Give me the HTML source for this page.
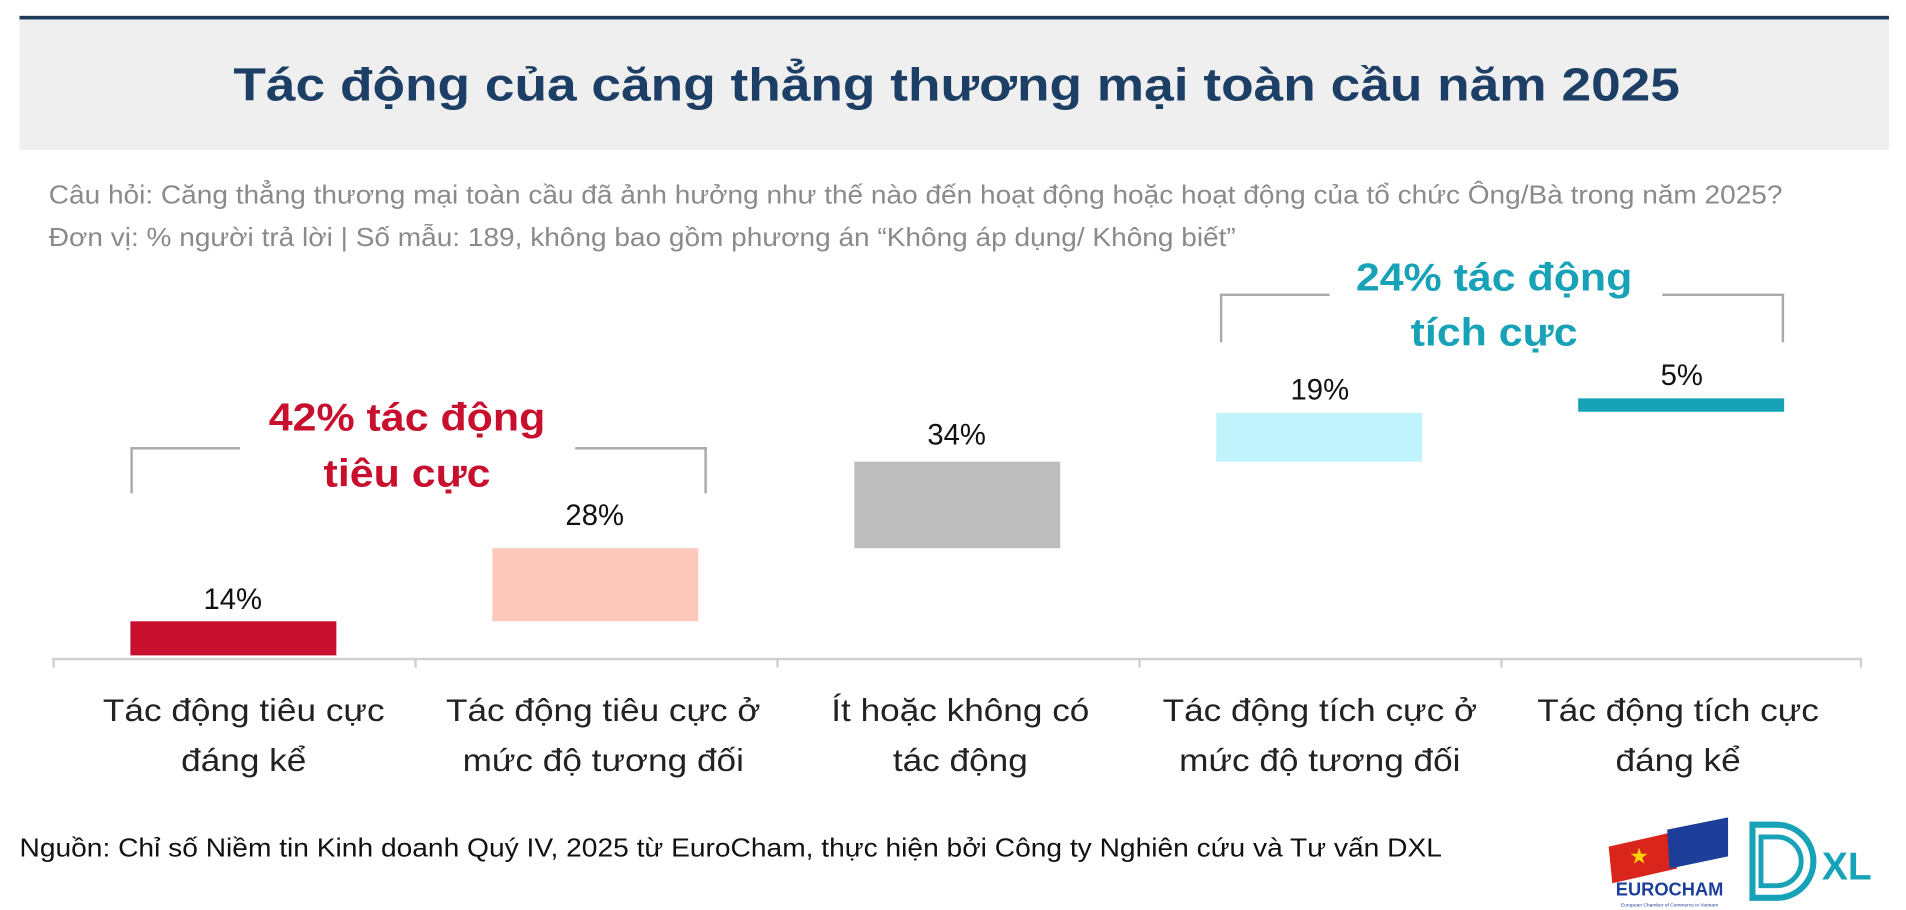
<!DOCTYPE html>
<html><head><meta charset="utf-8"><style>
html,body{margin:0;padding:0;background:#fff;overflow:hidden;width:1906px;height:910px}
#w{position:absolute;left:0;top:0;width:1564px;height:747px;transform-origin:0 0;transform:scale(1.21867,1.2182);font-family:"Liberation Sans",sans-serif}
.a{position:absolute}
.t{position:absolute;white-space:nowrap;transform:translate(-50%,-50%)}
.bar{position:absolute}
.cat{position:absolute;width:290px;text-align:center;font-size:26px;line-height:41px;color:#222;transform:translateX(-50%) scaleX(1.11)}
.v{font-size:24px;color:#111}
</style></head><body><div id="w">
<div class="a" style="left:16px;top:13px;width:1534px;height:3px;background:#1f3a5a"></div>
<div class="a" style="left:16px;top:16px;width:1534px;height:107px;background:#efeff0"></div>
<div class="t" style="left:785px;top:71px;font-size:38px;font-weight:bold;color:#1d3f66;transform:translate(-50%,-50%) scaleX(1.15)">Tác động của căng thẳng thương mại toàn cầu năm 2025</div>
<div class="a" style="left:40px;top:149px;font-size:21px;color:#8a8a8a;white-space:nowrap;transform-origin:0 0;transform:scaleX(1.095)">Câu hỏi: Căng thẳng thương mại toàn cầu đã ảnh hưởng như thế nào đến hoạt động hoặc hoạt động của tổ chức Ông/Bà trong năm 2025?</div>
<div class="a" style="left:40px;top:184px;font-size:21px;color:#8a8a8a;white-space:nowrap;transform-origin:0 0;transform:scaleX(1.095)">Đơn vị: % người trả lời | Số mẫu: 189, không bao gồm phương án “Không áp dụng/ Không biết”</div>

<div class="a" style="left:43px;top:540px;width:1484px;height:2px;background:#d0d0d0"></div>
<div class="a" style="left:43px;top:540px;width:2px;height:8px;background:#d0d0d0"></div>
<div class="a" style="left:340px;top:540px;width:2px;height:8px;background:#d0d0d0"></div>
<div class="a" style="left:637px;top:540px;width:2px;height:8px;background:#d0d0d0"></div>
<div class="a" style="left:934px;top:540px;width:2px;height:8px;background:#d0d0d0"></div>
<div class="a" style="left:1231px;top:540px;width:2px;height:8px;background:#d0d0d0"></div>
<div class="a" style="left:1526px;top:540px;width:2px;height:8px;background:#d0d0d0"></div>

<div class="bar" style="left:107px;top:510px;width:169px;height:28px;background:#c8102e"></div>
<div class="bar" style="left:404px;top:450px;width:169px;height:60px;background:#fcc9bc"></div>
<div class="bar" style="left:701px;top:379px;width:169px;height:71px;background:#bdbdbd"></div>
<div class="bar" style="left:998px;top:339px;width:169px;height:40px;background:#c0f3fb"></div>
<div class="bar" style="left:1295px;top:327px;width:169px;height:11px;background:#17a2b8"></div>

<div class="t v" style="left:191px;top:493px">14%</div>
<div class="t v" style="left:488px;top:424px">28%</div>
<div class="t v" style="left:785px;top:358px">34%</div>
<div class="t v" style="left:1083px;top:321px">19%</div>
<div class="t v" style="left:1380px;top:309px">5%</div>

<div class="a" style="left:107px;top:367px;width:88px;height:36px;border-left:2px solid #aaa;border-top:2px solid #aaa"></div>
<div class="a" style="left:472px;top:367px;width:106px;height:36px;border-right:2px solid #aaa;border-top:2px solid #aaa"></div>
<div class="t" style="left:334px;top:343px;font-size:32px;font-weight:bold;color:#c8102e;transform:translate(-50%,-50%) scaleX(1.1)">42% tác động</div>
<div class="t" style="left:334px;top:389px;font-size:32px;font-weight:bold;color:#c8102e;transform:translate(-50%,-50%) scaleX(1.1)">tiêu cực</div>

<div class="a" style="left:1001px;top:241px;width:88px;height:38px;border-left:2px solid #aaa;border-top:2px solid #aaa"></div>
<div class="a" style="left:1364px;top:241px;width:98px;height:38px;border-right:2px solid #aaa;border-top:2px solid #aaa"></div>
<div class="t" style="left:1226px;top:228px;font-size:32px;font-weight:bold;color:#17a2b8;transform:translate(-50%,-50%) scaleX(1.1)">24% tác động</div>
<div class="t" style="left:1226px;top:273px;font-size:32px;font-weight:bold;color:#17a2b8;transform:translate(-50%,-50%) scaleX(1.1)">tích cực</div>

<div class="cat" style="left:200px;top:563px">Tác động tiêu cực<br>đáng kể</div>
<div class="cat" style="left:495px;top:563px">Tác động tiêu cực ở<br>mức độ tương đối</div>
<div class="cat" style="left:788px;top:563px">Ít hoặc không có<br>tác động</div>
<div class="cat" style="left:1083px;top:563px">Tác động tích cực ở<br>mức độ tương đối</div>
<div class="cat" style="left:1377px;top:563px">Tác động tích cực<br>đáng kể</div>

<div class="a" style="left:16px;top:685px;font-size:21px;color:#111;white-space:nowrap;transform-origin:0 0;transform:scaleX(1.1)">Nguồn: Chỉ số Niềm tin Kinh doanh Quý IV, 2025 từ EuroCham, thực hiện bởi Công ty Nghiên cứu và Tư vấn DXL</div>

<svg class="a" style="left:1318px;top:665px" width="110" height="82">
<polygon points="2,30 55,18 58,48 5,60" fill="#da251d"/>
<polygon points="50,16 100,6 100,38 52,48" fill="#1d3f9a"/>
<text x="27" y="44" font-size="18" fill="#ffd400" text-anchor="middle">★</text>
<text x="52" y="70" font-size="15" font-weight="bold" fill="#1d3f9a" text-anchor="middle" font-family="Liberation Sans">EUROCHAM</text>
<text x="52" y="79" font-size="4" fill="#1d3f9a" text-anchor="middle" font-family="Liberation Sans">European Chamber of Commerce in Vietnam</text>
</svg>
<svg class="a" style="left:1433px;top:672px" width="115" height="72">
<path d="M5,5 H25 A30,30 0 0 1 25,65 H5 Z" fill="none" stroke="#17a2b8" stroke-width="5"/>
<path d="M12,15 H25 A20,20 0 0 1 25,55 H12 Z" fill="none" stroke="#17a2b8" stroke-width="4"/>
<text x="62" y="50" font-size="32" font-weight="bold" fill="#17a2b8" font-family="Liberation Sans">XL</text>
</svg>
</div></body></html>
